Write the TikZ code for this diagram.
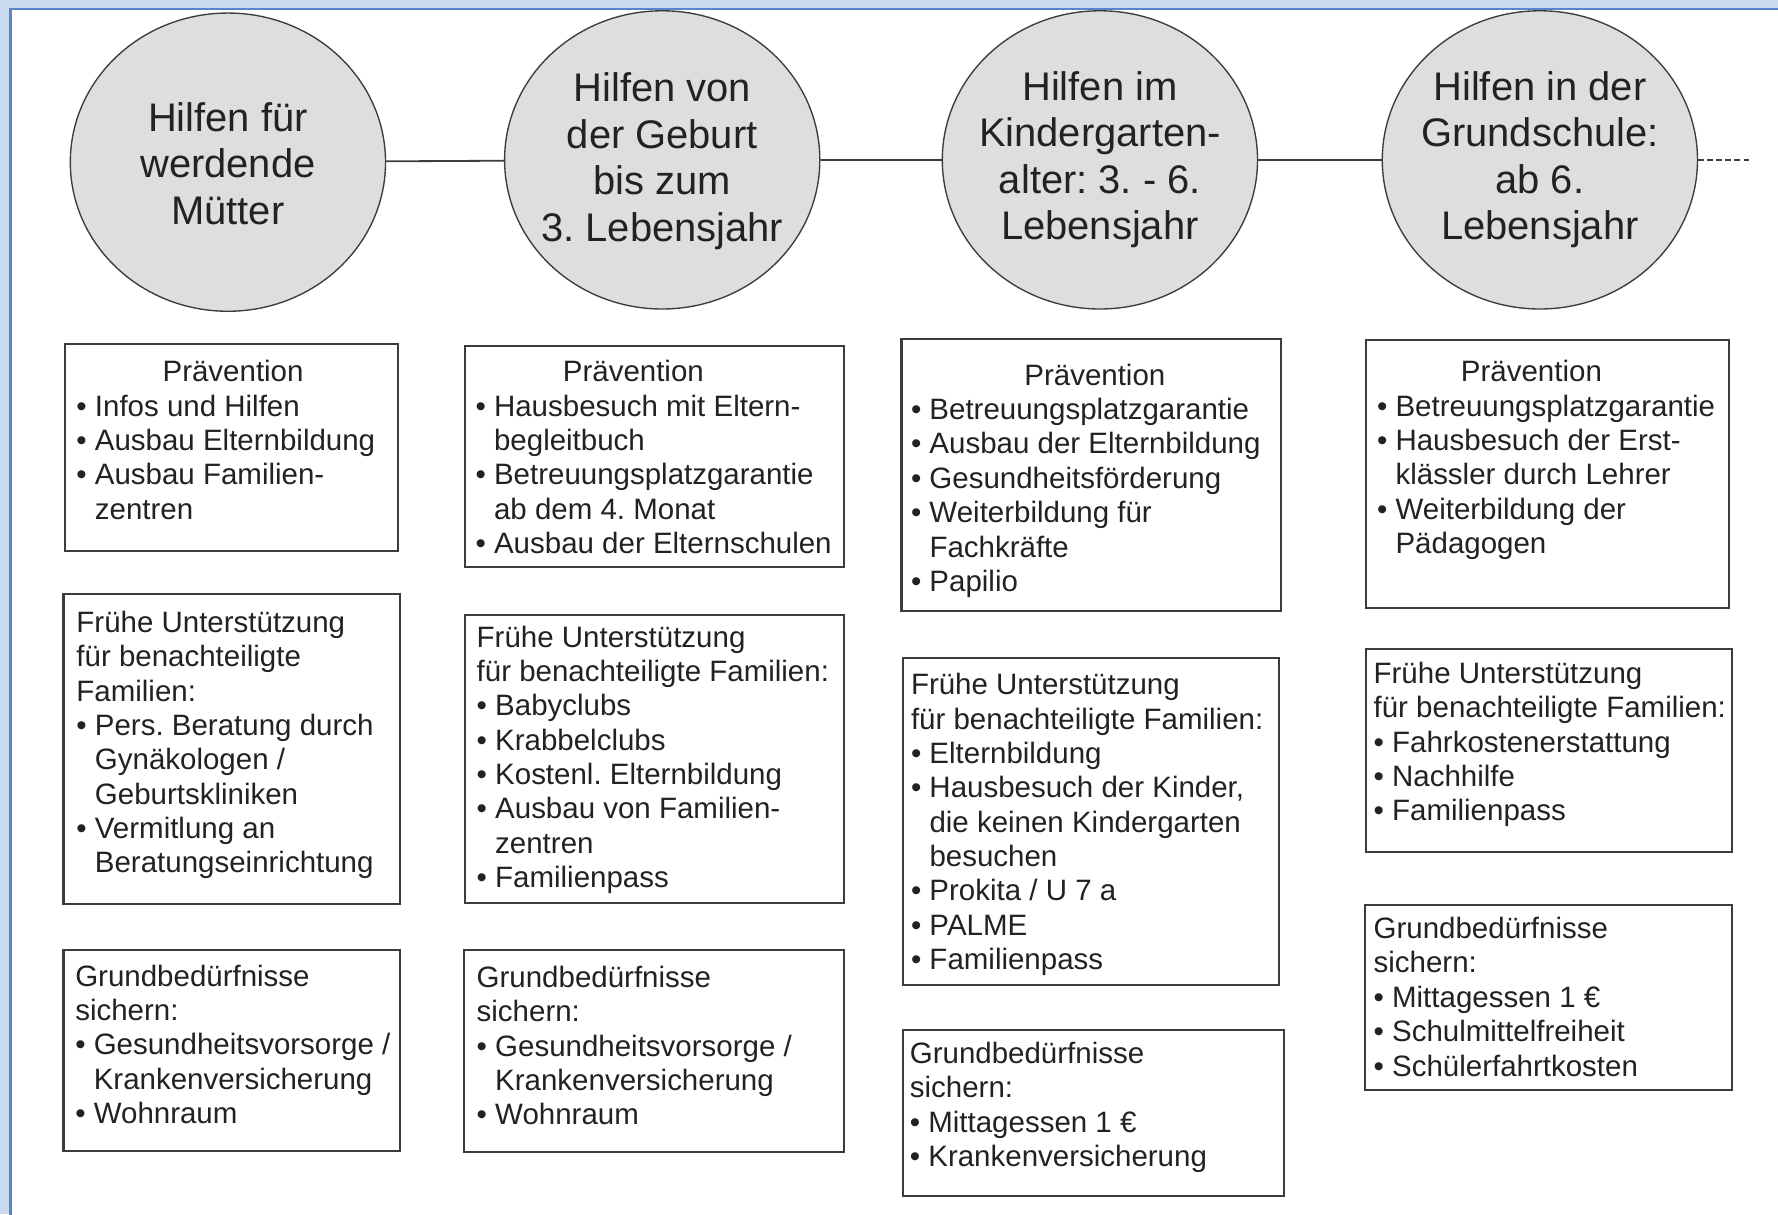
\documentclass[tikz,border=0pt]{standalone}
\usepackage{fontspec}
\setmainfont{Liberation Sans}
\usetikzlibrary{shapes.geometric}
\frenchspacing
\definecolor{bgblue}{HTML}{C9D9EF}
\definecolor{frameblue}{HTML}{5A86C8}
\definecolor{circfill}{HTML}{DEDEDE}
\definecolor{linec}{HTML}{3C3C3C}
\definecolor{txtc}{HTML}{222222}
\newcommand\ct{\hphantom{•\ }}
\newcommand\hd[1]{\hspace*{#1}Prävention}
\tikzset{
  phase/.style={ellipse, draw=linec, line width=0.6pt, fill=circfill, inner sep=0pt,
    minimum width=139pt, minimum height=131.5pt},
  phtext/.style={inner sep=0pt, align=center, text=txtc,
    font=\fontsize{17.6}{20.5}\selectfont},
  bx/.style={draw=linec, line width=0.9pt, anchor=north west, inner sep=0pt, outer sep=0pt},
  bt/.style={anchor=north west, inner sep=0pt, align=left, text=txtc,
    font=\fontsize{13}{15.15}\selectfont},
  link/.style={draw=linec, line width=0.8pt}
}
\begin{document}
\begin{tikzpicture}[x=0.5pt,y=-0.5pt]
\frenchspacing
\useasboundingbox (0,0) rectangle (1568,1071);
\fill[bgblue] (0,0) rectangle (1568,1071);
\filldraw[fill=white, draw=frameblue, line width=1.2pt] (9,8) rectangle (1580,1085);

% phases
\node[phase] (c1) at (201,143) {};
\node[phase] (c2) at (584,141) {};
\node[phase] (c3) at (970,141) {};
\node[phase] (c4) at (1358,141) {};
\node[phtext] (c1t) at (201,144) {Hilfen für\\werdende\\Mütter};
\node[phtext] (c2t) at (584,142) {Hilfen von\\der Geburt\\bis zum\\3. Lebensjahr};
\node[phtext] (c3t) at (970,141) {Hilfen im\\Kindergarten-\\alter: 3. - 6.\\Lebensjahr};
\node[phtext] (c4t) at (1358,141) {Hilfen in der\\Grundschule:\\ab 6.\\Lebensjahr};
\coordinate (cend) at (1543,141);
\draw[link] (c1) -- (c2);
\draw[link] (c2) -- (c3);
\draw[link] (c3) -- (c4);
\draw[link, line width=0.6pt, dash pattern=on 2.5pt off 1.5pt] (c4) -- (cend);

% column 1
\node[bx, minimum width=147pt, minimum height=91.5pt] (b1a) at (57,303) {};
\node[bt] (t1a) at (67,317.5) {\hd{38pt}\\• Infos und Hilfen\\• Ausbau Elternbildung\\• Ausbau Familien-\\\ct zentren};
\node[bx, minimum width=148.5pt, minimum height=136.5pt] (b1b) at (56,524) {};
\node[bt] (t1b) at (67,538.5) {Frühe Unterstützung\\für benachteiligte\\Familien:\\• Pers. Beratung durch\\\ct Gynäkologen /\\\ct Geburtskliniken\\• Vermitlung an\\\ct Beratungseinrichtung};
\node[bx, minimum width=148.5pt, minimum height=88.5pt] (b1c) at (56,838) {};
\node[bt] (t1c) at (66,850.5) {Grundbedürfnisse\\sichern:\\• Gesundheitsvorsorge /\\\ct Krankenversicherung\\• Wohnraum};

% column 2
\node[bx, minimum width=167pt, minimum height=97.5pt] (b2a) at (410,305) {};
\node[bt] (t2a) at (419,317.5) {\hd{38.5pt}\\• Hausbesuch mit Eltern-\\\ct begleitbuch\\• Betreuungsplatzgarantie\\\ct ab dem 4. Monat\\• Ausbau der Elternschulen};
\node[bx, minimum width=167pt, minimum height=127pt] (b2b) at (410,542) {};
\node[bt] (t2b) at (420,551.5) {Frühe Unterstützung\\für benachteiligte Familien:\\• Babyclubs\\• Krabbelclubs\\• Kostenl. Elternbildung\\• Ausbau von Familien-\\\ct zentren\\• Familienpass};
\node[bx, minimum width=167.5pt, minimum height=89pt] (b2c) at (409,838) {};
\node[bt] (t2c) at (420,851.5) {Grundbedürfnisse\\sichern:\\• Gesundheitsvorsorge /\\\ct Krankenversicherung\\• Wohnraum};

% column 3
\node[bx, minimum width=167.5pt, minimum height=120pt] (b3a) at (795,299) {};
\node[bt] (t3a) at (803,320.5) {\hd{50pt}\\• Betreuungsplatzgarantie\\• Ausbau der Elternbildung\\• Gesundheitsförderung\\• Weiterbildung für\\\ct Fachkräfte\\• Papilio};
\node[bx, minimum width=166pt, minimum height=144.5pt] (b3b) at (796,580) {};
\node[bt] (t3b) at (803,593.5) {Frühe Unterstützung\\für benachteiligte Familien:\\• Elternbildung\\• Hausbesuch der Kinder,\\\ct die keinen Kindergarten\\\ct besuchen\\• Prokita / U 7 a\\• PALME\\• Familienpass};
\node[bx, minimum width=168pt, minimum height=73.5pt] (b3c) at (796,908) {};
\node[bt] (t3c) at (802,918.5) {Grundbedürfnisse\\sichern:\\• Mittagessen 1 €\\• Krankenversicherung};

% column 4
\node[bx, minimum width=160pt, minimum height=118pt] (b4a) at (1205,300) {};
\node[bt] (t4a) at (1214,317.5) {\hd{37pt}\\• Betreuungsplatzgarantie\\• Hausbesuch der Erst-\\\ct klässler durch Lehrer\\• Weiterbildung der\\\ct Pädagogen};
\node[bx, minimum width=161pt, minimum height=89.5pt] (b4b) at (1205,572) {};
\node[bt] (t4b) at (1211,583.5) {Frühe Unterstützung\\für benachteiligte Familien:\\• Fahrkostenerstattung\\• Nachhilfe\\• Familienpass};
\node[bx, minimum width=161.5pt, minimum height=81.5pt] (b4c) at (1204,798) {};
\node[bt] (t4c) at (1211,808.5) {Grundbedürfnisse\\sichern:\\• Mittagessen 1 €\\• Schulmittelfreiheit\\• Schülerfahrtkosten};
\end{tikzpicture}
\end{document}
